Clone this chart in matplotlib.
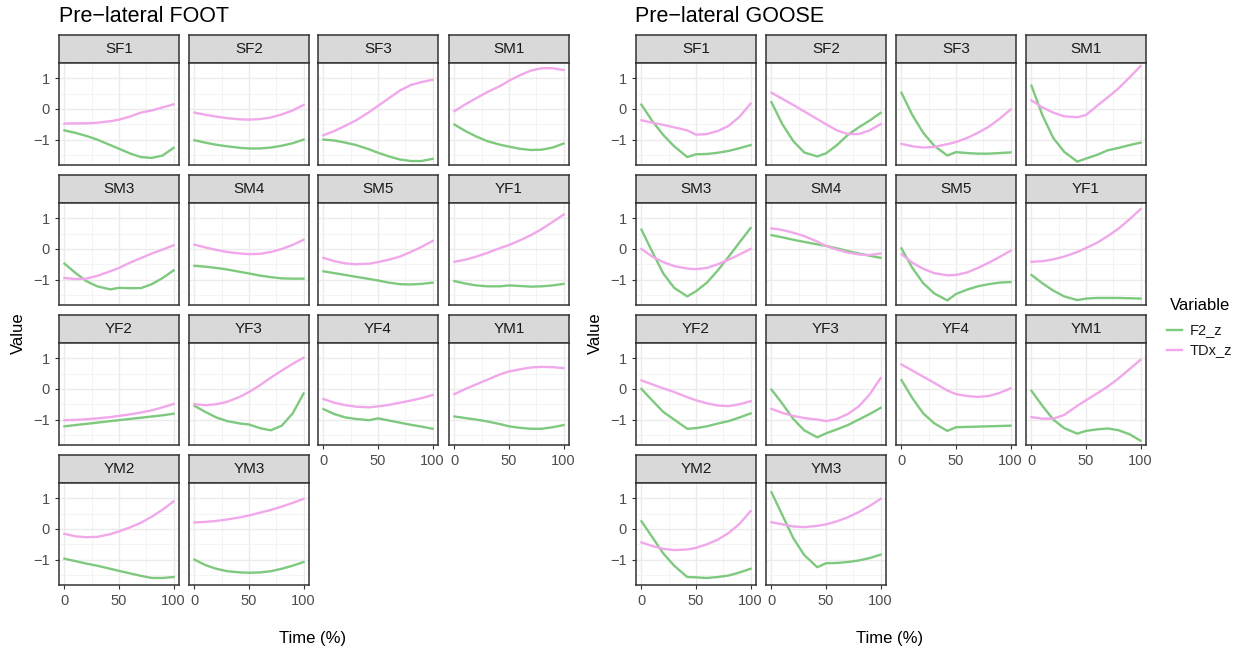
import matplotlib.pyplot as plt

plt.rcParams['font.family'] = ['Liberation Sans', 'DejaVu Sans']

time = [0, 10, 20, 30, 42, 50, 60, 70, 80, 90, 100]
panels = ['SF1', 'SF2', 'SF3', 'SM1', 'SM3', 'SM4', 'SM5', 'YF1',
          'YF2', 'YF3', 'YF4', 'YM1', 'YM2', 'YM3']

foot_f2 = {
    'SF1': [-0.70, -0.78, -0.88, -1.0, -1.18, -1.30, -1.45, -1.57, -1.60, -1.52, -1.27],
    'SF2': [-1.02, -1.10, -1.17, -1.22, -1.27, -1.29, -1.29, -1.26, -1.20, -1.12, -1.0],
    'SF3': [-1.0, -1.03, -1.10, -1.18, -1.32, -1.43, -1.55, -1.65, -1.70, -1.70, -1.63],
    'SM1': [-0.51, -0.72, -0.90, -1.05, -1.17, -1.23, -1.30, -1.34, -1.33, -1.26, -1.13],
    'SM3': [-0.48, -0.78, -1.05, -1.22, -1.32, -1.27, -1.28, -1.28, -1.15, -0.95, -0.70],
    'SM4': [-0.55, -0.58, -0.62, -0.67, -0.75, -0.80, -0.87, -0.92, -0.96, -0.97, -0.97],
    'SM5': [-0.73, -0.79, -0.85, -0.91, -0.98, -1.03, -1.10, -1.15, -1.16, -1.14, -1.10],
    'YF1': [-1.05, -1.13, -1.19, -1.22, -1.22, -1.19, -1.21, -1.23, -1.22, -1.19, -1.14],
    'YF2': [-1.22, -1.18, -1.14, -1.10, -1.05, -1.02, -0.98, -0.94, -0.90, -0.86, -0.81],
    'YF3': [-0.55, -0.75, -0.93, -1.05, -1.13, -1.16, -1.28, -1.35, -1.20, -0.80, -0.15],
    'YF4': [-0.66, -0.82, -0.93, -0.98, -1.02, -0.96, -1.03, -1.10, -1.17, -1.23, -1.30],
    'YM1': [-0.90, -0.95, -1.0, -1.06, -1.15, -1.22, -1.27, -1.30, -1.30, -1.25, -1.18],
    'YM2': [-0.97, -1.05, -1.13, -1.20, -1.30, -1.37, -1.45, -1.53, -1.60, -1.60, -1.57],
    'YM3': [-1.0, -1.18, -1.30, -1.38, -1.42, -1.43, -1.42, -1.38, -1.30, -1.20, -1.08],
}
foot_tdx = {
    'SF1': [-0.48, -0.47, -0.47, -0.45, -0.40, -0.35, -0.25, -0.12, -0.05, 0.05, 0.15],
    'SF2': [-0.12, -0.19, -0.25, -0.30, -0.34, -0.35, -0.33, -0.28, -0.18, -0.05, 0.13],
    'SF3': [-0.86, -0.72, -0.55, -0.37, -0.10, 0.10, 0.35, 0.60, 0.78, 0.88, 0.95],
    'SM1': [-0.07, 0.15, 0.35, 0.55, 0.75, 0.92, 1.10, 1.25, 1.33, 1.33, 1.27],
    'SM3': [-0.95, -0.98, -0.97, -0.88, -0.73, -0.62, -0.45, -0.30, -0.15, -0.02, 0.12],
    'SM4': [0.14, 0.05, -0.03, -0.10, -0.15, -0.17, -0.16, -0.10, 0.0, 0.13, 0.30],
    'SM5': [-0.29, -0.40, -0.47, -0.50, -0.48, -0.43, -0.35, -0.25, -0.10, 0.07, 0.26],
    'YF1': [-0.42, -0.35, -0.25, -0.13, 0.03, 0.13, 0.28, 0.45, 0.65, 0.88, 1.12],
    'YF2': [-1.02, -1.01, -0.99, -0.96, -0.92, -0.88, -0.83, -0.77, -0.70, -0.60, -0.49],
    'YF3': [-0.50, -0.53, -0.50, -0.42, -0.25, -0.10, 0.12, 0.37, 0.60, 0.82, 1.02],
    'YF4': [-0.33, -0.45, -0.53, -0.58, -0.60, -0.57, -0.52, -0.45, -0.38, -0.30, -0.20],
    'YM1': [-0.17, 0.0, 0.15, 0.30, 0.48, 0.57, 0.64, 0.70, 0.72, 0.71, 0.68],
    'YM2': [-0.16, -0.24, -0.27, -0.26, -0.17, -0.08, 0.05, 0.20, 0.40, 0.63, 0.90],
    'YM3': [0.21, 0.23, 0.26, 0.31, 0.38, 0.44, 0.53, 0.62, 0.73, 0.85, 0.98],
}
goose_f2 = {
    'SF1': [0.14, -0.40, -0.85, -1.22, -1.57, -1.48, -1.47, -1.43, -1.37, -1.28, -1.18],
    'SF2': [0.22, -0.50, -1.05, -1.42, -1.55, -1.45, -1.18, -0.85, -0.60, -0.38, -0.13],
    'SF3': [0.53, -0.20, -0.78, -1.20, -1.52, -1.41, -1.44, -1.46, -1.46, -1.44, -1.42],
    'SM1': [0.76, -0.20, -0.95, -1.40, -1.72, -1.62, -1.50, -1.35, -1.27, -1.18, -1.10],
    'SM3': [0.63, -0.10, -0.80, -1.27, -1.55, -1.38, -1.10, -0.70, -0.25, 0.22, 0.68],
    'SM4': [0.45, 0.38, 0.30, 0.23, 0.15, 0.10, 0.02, -0.07, -0.15, -0.22, -0.29],
    'SM5': [0.02, -0.62, -1.12, -1.45, -1.68, -1.47, -1.33, -1.22, -1.15, -1.10, -1.08],
    'YF1': [-0.85, -1.12, -1.36, -1.55, -1.67, -1.62, -1.60, -1.60, -1.60, -1.61, -1.62],
    'YF2': [0.0, -0.38, -0.75, -1.0, -1.30, -1.28, -1.22, -1.13, -1.05, -0.93, -0.80],
    'YF3': [-0.02, -0.48, -0.98, -1.35, -1.58, -1.45, -1.32, -1.18, -1.0, -0.82, -0.62],
    'YF4': [0.29, -0.30, -0.80, -1.12, -1.37, -1.25, -1.24, -1.23, -1.22, -1.21, -1.20],
    'YM1': [-0.06, -0.55, -1.0, -1.28, -1.46, -1.37, -1.32, -1.29, -1.35, -1.48, -1.69],
    'YM2': [0.25, -0.27, -0.80, -1.20, -1.57, -1.58, -1.60, -1.57, -1.52, -1.42, -1.30],
    'YM3': [1.20, 0.45, -0.30, -0.85, -1.25, -1.12, -1.11, -1.08, -1.03, -0.95, -0.84],
}
goose_tdx = {
    'SF1': [-0.37, -0.45, -0.52, -0.60, -0.70, -0.84, -0.82, -0.72, -0.55, -0.25, 0.17],
    'SF2': [0.53, 0.33, 0.13, -0.08, -0.33, -0.50, -0.70, -0.82, -0.82, -0.70, -0.50],
    'SF3': [-1.14, -1.22, -1.26, -1.24, -1.15, -1.08, -0.95, -0.78, -0.58, -0.32, -0.02],
    'SM1': [0.28, 0.05, -0.12, -0.24, -0.27, -0.20, 0.10, 0.38, 0.68, 1.03, 1.40],
    'SM3': [0.0, -0.25, -0.43, -0.56, -0.64, -0.66, -0.62, -0.50, -0.35, -0.18, 0.0],
    'SM4': [0.67, 0.62, 0.53, 0.42, 0.24, 0.10, -0.02, -0.12, -0.18, -0.20, -0.15],
    'SM5': [-0.17, -0.45, -0.65, -0.79, -0.86, -0.85, -0.77, -0.62, -0.45, -0.26, -0.06],
    'YF1': [-0.42, -0.40, -0.34, -0.25, -0.10, 0.03, 0.20, 0.42, 0.67, 0.97, 1.30],
    'YF2': [0.28, 0.15, 0.02, -0.10, -0.27, -0.37, -0.47, -0.54, -0.56, -0.50, -0.40],
    'YF3': [-0.65, -0.78, -0.88, -0.95, -1.0, -1.05, -0.98, -0.82, -0.57, -0.18, 0.35],
    'YF4': [0.80, 0.60, 0.40, 0.20, -0.05, -0.17, -0.23, -0.26, -0.23, -0.13, 0.02],
    'YM1': [-0.92, -0.97, -0.97, -0.85, -0.55, -0.37, -0.15, 0.08, 0.35, 0.65, 0.95],
    'YM2': [-0.44, -0.56, -0.65, -0.69, -0.67, -0.62, -0.50, -0.35, -0.13, 0.17, 0.58],
    'YM3': [0.22, 0.15, 0.08, 0.06, 0.10, 0.15, 0.25, 0.38, 0.55, 0.75, 0.98],
}

green = '#7FC97F'
pink = '#F0A8EA'
W, H = 1247, 653

fig = plt.figure(figsize=(W / 100, H / 100), dpi=100)


def px_axes(x, y, w, h):
    # pixel box (top-left origin) -> figure fraction
    return fig.add_axes([x / W, 1 - (y + h) / H, w / W, h / H])


def draw_grid(x0s, f2, tdx, title, title_x, ylab_x, xlab_x):
    rows_top = [35, 175, 315, 455]
    strip_h, plot_h, pw = 28, 102, 120
    for i, name in enumerate(panels):
        r, c = divmod(i, 4)
        x = x0s[c]
        ys = rows_top[r]
        # strip
        sax = px_axes(x, ys, pw, strip_h)
        sax.set_facecolor('#D9D9D9')
        sax.set_xticks([])
        sax.set_yticks([])
        for s in sax.spines.values():
            s.set_color('#333333')
            s.set_linewidth(1.1)
        sax.text(0.5, 0.5, name, ha='center', va='center', fontsize=11,
                 color='#1A1A1A', transform=sax.transAxes)
        ax = px_axes(x, ys + strip_h, pw, plot_h)
        ax.set_xlim(-5, 105)
        ax.set_ylim(-1.83, 1.5)
        ax.set_xticks([0, 50, 100])
        ax.set_xticks([25, 75], minor=True)
        ax.set_yticks([-1, 0, 1])
        ax.set_yticks([-1.5, -0.5, 0.5], minor=True)
        ax.grid(True, which='major', color='#EBEBEB', linewidth=1.0)
        ax.grid(True, which='minor', color='#F2F2F2', linewidth=0.6)
        ax.set_axisbelow(True)
        for s in ax.spines.values():
            s.set_color('#333333')
            s.set_linewidth(1.1)
        ax.plot(time, f2[name], color=green, linewidth=1.7)
        ax.plot(time, tdx[name], color=pink, linewidth=1.7)
        ax.tick_params(which='both', length=0, labelsize=10.5, colors='#4D4D4D')
        ax.tick_params(which='major', length=3, color='#333333')
        ax.tick_params(which='minor', length=0)
        if c == 0:
            ax.set_yticklabels(['\u22121', '0', '1'])
        else:
            ax.tick_params(axis='y', which='major', length=0, labelleft=False)
        below = i + 4 < len(panels)
        if below:
            ax.tick_params(axis='x', which='major', length=0, labelbottom=False)
        else:
            ax.set_xticklabels(['0', '50', '100'])
    fig.text(title_x / W, 1 - 16 / H, title, fontsize=15.5, ha='left', va='center')
    fig.text(ylab_x / W, 1 - 333 / H, 'Value', fontsize=12, rotation=90,
             ha='center', va='center')
    fig.text(xlab_x / W, 1 - 638 / H, 'Time (%)', fontsize=12,
             ha='center', va='center')


draw_grid([59, 189, 318, 449], foot_f2, foot_tdx, 'Pre\u2212lateral FOOT', 59, 18, 313)
draw_grid([636, 766, 896, 1026], goose_f2, goose_tdx, 'Pre\u2212lateral GOOSE', 635, 595, 890)

# legend
fig.text(1170 / W, 1 - 305 / H, 'Variable', fontsize=12, ha='left', va='center')
lax = px_axes(1160, 318, 87, 45)
lax.set_xlim(0, 87)
lax.set_ylim(45, 0)
lax.axis('off')
lax.plot([7, 22], [12, 12], color=green, linewidth=1.7)
lax.plot([7, 22], [32, 32], color=pink, linewidth=1.7)
lax.text(30, 12, 'F2_z', fontsize=10.5, va='center', color='#1A1A1A')
lax.text(30, 32, 'TDx_z', fontsize=10.5, va='center', color='#1A1A1A')

fig.savefig('out.png', dpi=100)
